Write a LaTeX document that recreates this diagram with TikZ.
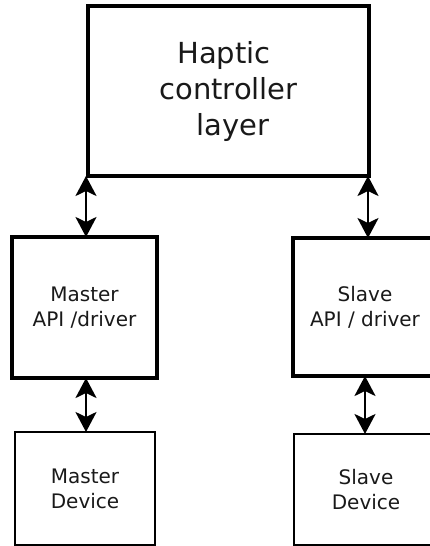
\documentclass[tikz,border=0pt]{standalone}
\usepackage{fontspec}
\setmainfont{DejaVu Sans}
\usetikzlibrary{arrows.meta}
\begin{document}
\begin{tikzpicture}[x=1pt,y=-1pt,
  box/.style={draw=black,line width=3.2pt,rectangle,inner sep=0pt,outer sep=0pt,align=center,text=black!90},
  dev/.style={box,line width=2.8pt},
  small/.style={font=\fontsize{20}{25}\selectfont},
  big/.style={font=\fontsize{29}{36}\selectfont},
  link/.style={line width=2.4pt,{Stealth[length=20pt,width=21pt,inset=5pt]}-{Stealth[length=20pt,width=21pt,inset=5pt]}}]
\useasboundingbox (0,0) rectangle (430,546);
\clip (0,0) rectangle (430,546);
\node[box,big,minimum width=281pt,minimum height=170pt] (top) at (228.5,91) {Haptic\rule{0.318em}{0pt}\\controller\\\rule{0.318em}{0pt}layer};
\node[box,small,minimum width=145pt,minimum height=141pt] (mapi) at (84.5,307.5) {Master\\API /driver};
\node[dev,small,minimum width=140pt,minimum height=113pt] (mdev) at (85,488.5) {Master\\Device};
\node[box,small,minimum width=144pt,minimum height=138pt] (sapi) at (365,307) {Slave\\API / driver};
\node[dev,small,minimum width=144pt,minimum height=111pt] (sdev) at (366,489.5) {Slave\\Device};
\draw[link] ([xshift=1.5pt]top.south -| mapi.north) -- ([xshift=1.5pt]mapi.north);
\draw[link] ([xshift=3pt]top.south -| sapi.north) -- ([xshift=3pt]sapi.north);
\draw[link] ([xshift=1.5pt]mapi.south) -- ([xshift=1.5pt]mapi.south |- mdev.north);
\draw[link] (sapi.south) -- (sapi.south |- sdev.north);
\end{tikzpicture}
\end{document}
